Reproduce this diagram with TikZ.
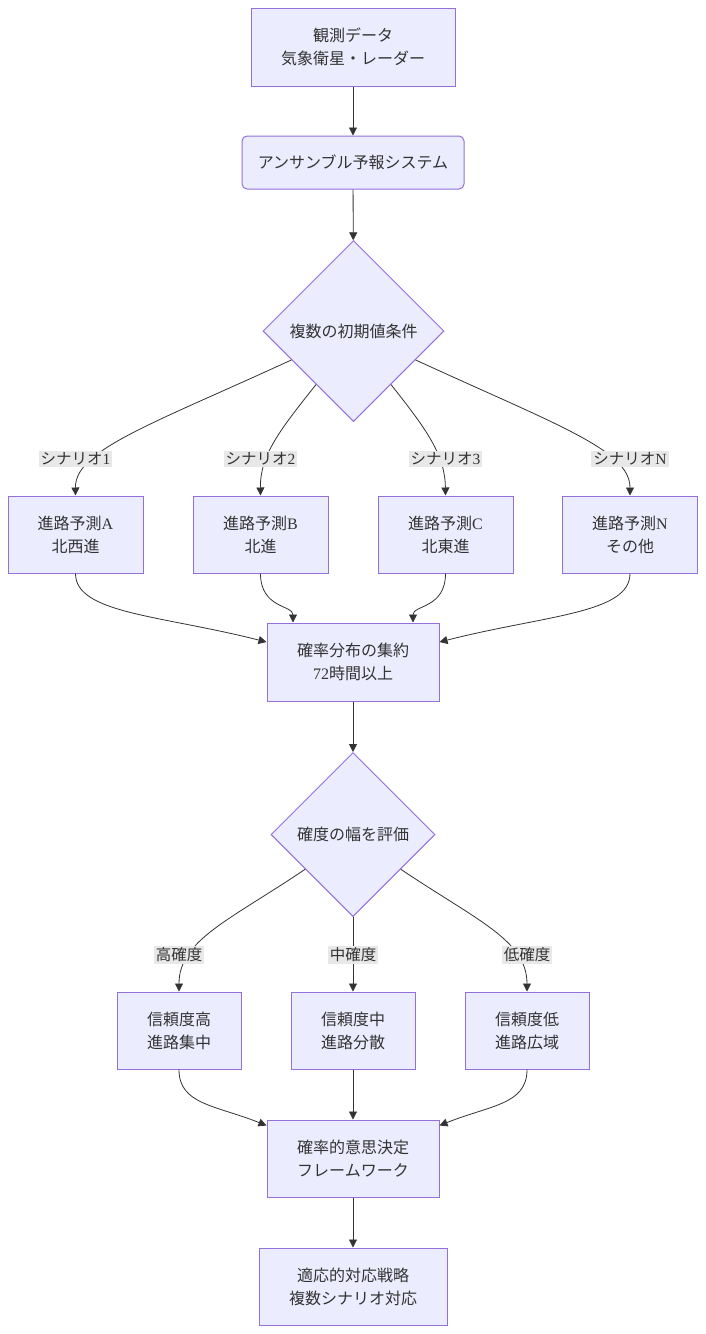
\documentclass[tikz,border=0pt]{standalone}
\usepackage{fontspec}
\setmainfont{Noto Sans CJK JP}
\newfontfamily\lat{Liberation Serif}
\usetikzlibrary{shapes.geometric,arrows.meta}
\definecolor{nodefill}{HTML}{ECECFF}
\definecolor{nodeline}{HTML}{9370DB}
\definecolor{ink}{HTML}{333333}
\definecolor{lblbg}{HTML}{E8E8E8}
\begin{document}
\begin{tikzpicture}[x=1pt,y=-1pt,
  box/.style={draw=nodeline,fill=nodefill,line width=1pt,text=ink,align=center,inner sep=0pt,
    font=\fontsize{16}{23}\selectfont},
  dia/.style={diamond,draw=nodeline,fill=nodefill,line width=1pt,text=ink,align=center,inner sep=0pt,
    font=\fontsize{16}{23}\selectfont},
  lbl/.style={fill=lblbg,text=ink,inner sep=2pt,font=\fontsize{15.5}{18}\selectfont},
  conn/.style={draw=ink,line width=0.8pt,-{Triangle[length=8pt,width=8pt]}}
]
\useasboundingbox (0,0) rectangle (706,1334);
\fill[white] (0,0) rectangle (706,1334);

\node[box,minimum width=204pt,minimum height=78pt] (obs) at (353,47) {観測データ\\気象衛星・レーダー};
\node[box,rounded corners=5pt,minimum width=222pt,minimum height=53pt] (ens) at (353,162.5) {アンサンブル予報システム};
\node[dia,minimum width=181pt,minimum height=181pt] (d1) at (353.5,331) {複数の初期値条件};

\node[box,minimum width=135pt,minimum height=77pt] (pa) at (75.5,534.5) {進路予測{\lat A}\\北西進};
\node[box,minimum width=135pt,minimum height=77pt] (pb) at (260.5,534.5) {進路予測{\lat B}\\北進};
\node[box,minimum width=135pt,minimum height=77pt] (pc) at (445.5,534.5) {進路予測{\lat C}\\北東進};
\node[box,minimum width=135pt,minimum height=77pt] (pn) at (630,534.5) {進路予測{\lat N}\\その他};

\node[box,minimum width=172pt,minimum height=78pt] (prob) at (353,662) {確率分布の集約\\{\lat 72}時間以上};
\node[dia,minimum width=164pt,minimum height=164pt] (d2) at (353,834.5) {確度の幅を評価};

\node[box,minimum width=124pt,minimum height=77pt] (hi) at (179,1030.5) {信頼度高\\進路集中};
\node[box,minimum width=124pt,minimum height=77pt] (mid) at (353,1030.5) {信頼度中\\進路分散};
\node[box,minimum width=124pt,minimum height=77pt] (lo) at (527,1030.5) {信頼度低\\進路広域};

\node[box,minimum width=172pt,minimum height=77pt] (frame) at (353,1158.5) {確率的意思決定\\フレームワーク};
\node[box,minimum width=188pt,minimum height=77pt] (adapt) at (353,1286.5) {適応的対応戦略\\複数シナリオ対応};

% straight connectors
\draw[conn] (obs) -- (ens);
\draw[conn] (ens) -- (d1);
\draw[conn] (prob) -- (d2);
\draw[conn] (d2) -- (mid);
\draw[conn] (mid) -- (frame);
\draw[conn] (frame) -- (adapt);

% scenario branches
\draw[conn] (d1.205) .. controls (150,425) and (75,450) .. (pa.north);
\draw[conn] (d1.235) .. controls (280,430) and (260,455) .. (pb.north);
\draw[conn] (d1.305) .. controls (427,430) and (445,455) .. (pc.north);
\draw[conn] (d1.335) .. controls (557,425) and (630,450) .. (pn.north);

\node[lbl] (l1) at (75.5,459) {シナリオ{\lat 1}};
\node[lbl] (l2) at (260.5,459) {シナリオ{\lat 2}};
\node[lbl] (l3) at (445.5,459) {シナリオ{\lat 3}};
\node[lbl] (l4) at (630,459) {シナリオ{\lat N}};

% merge into prob
\draw[conn] (pa.south) .. controls +(0,40) and (160,615) .. ([yshift=20pt]prob.west);
\draw[conn] (pb.south) .. controls +(0,35) and (293,605) .. ([xshift=-60pt]prob.north);
\draw[conn] (pc.south) .. controls +(0,35) and (413,605) .. ([xshift=60pt]prob.north);
\draw[conn] (pn.south) .. controls +(0,40) and (546,615) .. ([yshift=20pt]prob.east);

% confidence branches
\draw[conn] (d2.216) .. controls (230,920) and (179,940) .. (hi.north);
\draw[conn] (d2.324) .. controls (476,920) and (527,940) .. (lo.north);

\node[lbl] (c1) at (179,955) {高確度};
\node[lbl] (c2) at (353,955) {中確度};
\node[lbl] (c3) at (527,955) {低確度};

% merge into frame
\draw[conn] (hi.south) .. controls +(0,35) and (215,1105) .. ([yshift=33pt]frame.west);
\draw[conn] (lo.south) .. controls +(0,35) and (491,1105) .. ([yshift=33pt]frame.east);
\end{tikzpicture}
\end{document}
